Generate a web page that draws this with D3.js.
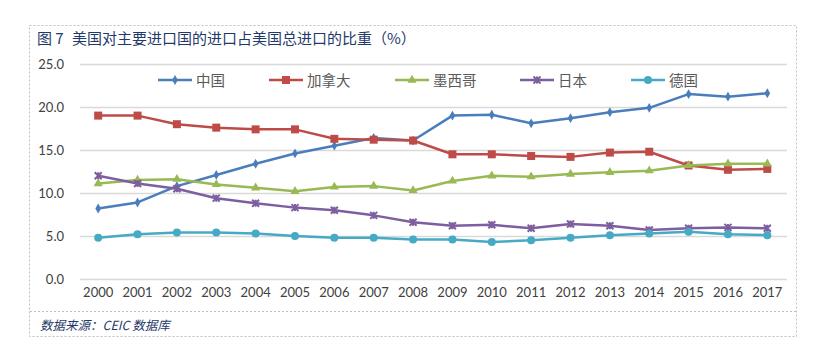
<!DOCTYPE html>
<html><head><meta charset="utf-8">
<script src="https://cdn.jsdelivr.net/npm/d3@7"></script>
<style>body{margin:0;background:#fff}</style>
</head><body>
<svg id="c" width="814" height="353"></svg>
<script>
const years = ["2000","2001","2002","2003","2004","2005","2006","2007","2008","2009","2010","2011","2012","2013","2014","2015","2016","2017"];
const seriesNames = ["中国","加拿大","墨西哥","日本","德国"];
const china   = [8.2,8.9,10.8,12.1,13.4,14.6,15.5,16.4,16.1,19.0,19.1,18.1,18.7,19.4,19.9,21.5,21.2,21.6];
const canada  = [19.0,19.0,18.0,17.6,17.4,17.4,16.3,16.2,16.1,14.5,14.5,14.3,14.2,14.7,14.8,13.2,12.7,12.8];
const mexico  = [11.1,11.5,11.6,11.0,10.6,10.2,10.7,10.8,10.3,11.4,12.0,11.9,12.2,12.4,12.6,13.2,13.4,13.4];
const japan   = [12.0,11.1,10.5,9.4,8.8,8.3,8.0,7.4,6.6,6.2,6.3,5.9,6.4,6.2,5.7,5.9,6.0,5.9];
const germany = [4.8,5.2,5.4,5.4,5.3,5.0,4.8,4.8,4.6,4.6,4.3,4.5,4.8,5.1,5.3,5.5,5.2,5.1];
const yTicks = [0,5,10,15,20,25];
const titleNum = "图 7";
const title = "美国对主要进口国的进口占美国总进口的比重（%）";
const source = "数据来源：CEIC 数据库";

const values = [china, canada, mexico, japan, germany];
const colors = ["#4a7ebb","#be4b48","#98b954","#7d5fa0","#46aac5"];
const markers = ["diamond","square","triangle","cross","circle"];

const svg = d3.select("#c");
svg.append("rect").attr("x",29.5).attr("y",25.5).attr("width",767).attr("height",311)
  .attr("fill","none").attr("stroke","#bfbfbf").attr("stroke-dasharray","2,2");
svg.append("line").attr("x1",30).attr("x2",797).attr("y1",311.5).attr("y2",311.5)
  .attr("stroke","#bfbfbf").attr("stroke-dasharray","2,2");

svg.append("text").attr("x",37).attr("y",44).text(titleNum)
  .attr("font-family","'Noto Sans CJK SC'").attr("font-size",15).attr("fill","#1f3a6a");
svg.append("text").attr("x",72).attr("y",44).text(title)
  .attr("font-family","'Noto Sans CJK SC'").attr("font-size",15).attr("fill","#1f3a6a");
svg.append("text").attr("x",40).attr("y",330).text(source)
  .attr("font-family","'Noto Sans CJK SC'").attr("font-size",12.5).attr("font-style","italic")
  .attr("fill","#1f3a6a");

const x = d3.scaleBand().domain(years).range([78.5,787]);
const y = d3.scaleLinear().domain([0,25]).range([279,64]);

const g = svg.append("g");
g.selectAll("line.grid").data(yTicks).enter().append("line")
  .attr("x1",80).attr("x2",787).attr("y1",d=>y(d)+0.5).attr("y2",d=>y(d)+0.5)
  .attr("stroke","#d9d9d9").attr("stroke-width",1.5);

const yAxis = d3.axisLeft(y).tickValues(yTicks).tickFormat(d3.format(".1f")).tickSize(0).tickPadding(0);
const ya = svg.append("g").attr("transform","translate(64,0)").call(yAxis);
ya.select(".domain").remove();
ya.selectAll("text").attr("font-family","Lato, 'Open Sans', sans-serif").attr("font-size",13).attr("fill","#404040");

const xAxis = d3.axisBottom(x).tickSize(0).tickPadding(0);
const xa = svg.append("g").attr("transform","translate(0,288)").call(xAxis);
xa.select(".domain").remove();
xa.selectAll("text").attr("font-family","Lato, 'Open Sans', sans-serif").attr("font-size",13).attr("fill","#404040");

const cx = d => x(d) + x.bandwidth()/2;
const line = d3.line().x((d,i)=>cx(years[i])).y(d=>y(d));

function drawMarker(sel, type, color){
  if(type==="diamond"){
    sel.append("path").attr("d",d3.symbol(d3.symbolDiamond,28)()).attr("fill",color);
  } else if(type==="square"){
    sel.append("rect").attr("x",-4).attr("y",-4).attr("width",8).attr("height",8).attr("fill",color);
  } else if(type==="triangle"){
    sel.append("path").attr("d",d3.symbol(d3.symbolTriangle,36)()).attr("fill",color);
  } else if(type==="cross"){
    sel.append("path").attr("d","M-3.5,-3.5L3.5,3.5M-3.5,3.5L3.5,-3.5M0,-3.5L0,3.5").attr("stroke",color).attr("stroke-width",2);
  } else {
    sel.append("circle").attr("r",4).attr("fill",color);
  }
}

values.forEach((vals,si)=>{
  g.append("path").datum(vals).attr("d",line).attr("fill","none")
    .attr("stroke",colors[si]).attr("stroke-width",2.5).attr("stroke-linejoin","round");
  vals.forEach((v,i)=>{
    const m = g.append("g").attr("transform",`translate(${cx(years[i])},${y(v)})`);
    drawMarker(m, markers[si], colors[si]);
  });
});

const legX = [158,269,395,520,631];
seriesNames.forEach((n,i)=>{
  const lg = svg.append("g").attr("transform",`translate(${legX[i]},80)`);
  lg.append("line").attr("x1",0).attr("x2",34).attr("stroke",colors[i]).attr("stroke-width",2.5);
  const m = lg.append("g").attr("transform","translate(17,0)");
  drawMarker(m, markers[i], colors[i]);
  lg.append("text").attr("x",38).attr("y",5.5).text(n)
    .attr("font-family","'Noto Sans CJK SC'").attr("font-size",14.5).attr("fill","#595959");
});
</script>
</body></html>
